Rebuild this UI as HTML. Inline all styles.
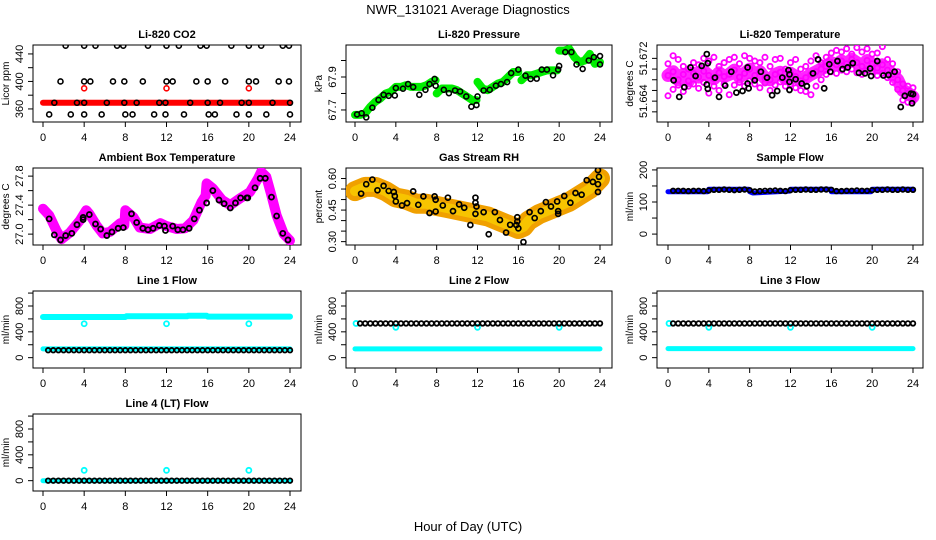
<!DOCTYPE html>
<html><head><meta charset="utf-8"><style>
html,body{margin:0;padding:0;background:#fff;}
svg{display:block;font-family:"Liberation Sans",sans-serif;}
</style></head><body>
<svg id="chart" width="936" height="540" viewBox="0 0 936 540" xmlns="http://www.w3.org/2000/svg">
<text x="468" y="14" text-anchor="middle" font-size="13">NWR_131021  Average Diagnostics</text>
<text x="468" y="531" text-anchor="middle" font-size="13">Hour of Day (UTC)</text>
</svg>
<script>
// ---- shared x ticks ----
const xTicks = [0,4,8,12,16,20,24];

// ---- CO2 ----
const co2Ticks = [360,380,400,420,440];
const co2Labels = [360,400,440];
const co2HiHours = [2.2,4.0,5.1,7.2,7.8,10.2,12.0,13.2,15.3,15.9,18.3,20.0,21.2,23.3,23.9];
const co2HiVals = [452,452,452,452,452,452,452,452,452,452,452,452,452,452,452];
const co2MidHours = [1.7,4.0,4.6,6.8,7.9,9.7,12.0,12.6,14.9,16.0,17.7,20.0,20.7,22.9,23.9];
const co2MidVals = [400,400,400,400,400,400,400,400,400,400,400,400,400,400,400];
const co2BandHours = [0,24];
const co2BandVals = [369,369];
const co2LowHours = [1.1,3.3,4.0,6.2,7.9,9.1,11.3,11.9,14.3,16.0,17.2,19.3,20.0,22.3,24.0];
const co2LowVals = [369,369,369,369,369,369,369,369,369,369,369,369,369,369,369];
const co2BotHours = [0.6,2.7,4.0,5.7,8.0,8.7,10.8,11.9,13.7,16.1,16.7,18.8,20.0,21.7,24.0];
const co2BotVals = [352,352,352,352,352,352,352,352,352,352,352,352,352,352,352];
const co2RedHours = [4,12,20];
const co2RedVals = [390,390,390];

// ---- Pressure ----
const presTicks = [67.7,67.8,67.9,68.0];
const presLabels = [67.7,67.9];
const presGreenHours = [0,0.5,1,1.5,2,2.5,3,3.5,4,4.5,5,5.5,6,6.5,7,7.5,7.9,null,8.0,8.5,9,9.5,10,10.5,11,11.5,11.9,null,12,12.5,13,13.5,14,14.5,15,15.5,16,null,16.3,16.8,17.3,17.8,18.3,18.8,19.3,19.8,null,20,20.5,21,21.5,22,22.5,23,23.5,24];
const presGreenVals = [67.67,67.67,67.68,67.72,67.75,67.77,67.8,67.81,67.84,67.84,67.85,67.84,67.84,67.84,67.85,67.87,67.88,null,67.8,67.83,67.83,67.83,67.82,67.8,67.78,67.76,67.76,null,67.87,67.83,67.82,67.84,67.86,67.87,67.9,67.93,67.93,null,67.88,67.91,67.91,67.92,67.93,67.94,67.94,67.94,null,68.06,68.06,68.07,68.02,67.99,68.0,68.04,67.98,67.99];
const presBlackHours = [0.2,0.65,1.1,1.7,2.3,2.8,3.3,3.9,4.0,4.7,5.2,5.7,6.3,6.9,7.3,7.8,7.9,8.7,9.2,9.8,10.3,10.9,11.4,11.9,12.0,12.6,13.2,13.8,14.3,14.9,15.3,16.0,16.7,17.2,17.8,18.3,18.8,19.4,19.9,20.0,20.6,21.2,21.7,22.3,22.9,23.4,24.0,24.0];
const presBlackVals = [67.673,67.68,67.655,67.714,67.761,67.792,67.786,67.788,67.833,67.829,67.857,67.839,67.792,67.822,67.857,67.888,67.847,67.822,67.802,67.818,67.812,67.782,67.72,67.73,67.782,67.818,67.822,67.847,67.857,67.869,67.924,67.945,67.908,67.888,67.89,67.945,67.945,67.91,67.945,67.967,68.051,68.051,67.976,67.949,68.0,68.02,68.027,67.976];

// ---- Li-820 Temperature ----
const tempTicks = [51.672,51.670,51.668,51.666,51.664,51.662];
const tempLabels = [51.672,51.664];
const tempMagHours = [0,0.5,1,1.5,2,2.5,3,3.5,4,4.5,5,5.5,6,6.5,7,7.5,8,8.5,9,9.5,10,10.5,11,11.5,12,12.5,13,13.5,14,14.5,15,15.5,16,16.5,17,17.5,18,18.5,19,19.5,20,20.5,21,21.5,22,22.5,23,23.5,24];
const tempMagA = [51.6710,51.6725,51.6718,51.6705,51.6700,51.6712,51.6708,51.6720,51.6715,51.6722,51.6705,51.6712,51.6718,51.6722,51.6710,51.6725,51.6720,51.6715,51.6712,51.6722,51.6705,51.6718,51.6720,51.6700,51.6712,51.6718,51.6700,51.6705,51.6715,51.6725,51.6712,51.6722,51.6730,51.6735,51.6732,51.6738,51.6728,51.6740,51.6732,51.6738,51.6728,51.6730,51.6742,51.6718,51.6710,51.6695,51.6672,51.6668,51.6665];
const tempMagB = [51.6688,51.6695,51.6680,51.6690,51.6678,51.6692,51.6685,51.6696,51.6688,51.6682,51.6693,51.6686,51.6690,51.6698,51.6685,51.6692,51.6700,51.6688,51.6695,51.6683,51.6680,51.6690,51.6694,51.6682,51.6692,51.6686,51.6678,51.6684,51.6690,51.6695,51.6700,51.6705,51.6712,51.6708,51.6715,51.6710,51.6718,51.6712,51.6705,51.6716,51.6710,51.6702,51.6708,51.6698,51.6690,51.6680,51.6660,51.6655,51.6648];
const tempMagC = [51.6650,51.6662,51.6670,51.6658,51.6668,51.6672,51.6664,51.6675,51.6655,51.6668,51.6660,51.6672,51.6652,51.6670,51.6675,51.6668,51.6678,51.6672,51.6665,51.6674,51.6660,51.6670,51.6676,51.6668,51.6672,51.6665,51.6660,51.6658,51.6652,51.6668,51.6680,51.6690,51.6695,51.6692,51.6698,51.6695,51.6700,51.6693,51.6690,51.6698,51.6695,51.6688,51.6692,51.6684,51.6675,51.6662,51.6642,51.6638,51.6640];
const tempBlackHours = [0.55,1.1,1.6,2.2,2.7,3.3,3.8,3.9,3.8,3.9,4.6,5.0,5.6,6.2,6.7,7.3,7.8,7.8,7.9,8.5,9.1,9.7,10.2,10.7,11.2,11.8,11.9,11.9,11.9,12.5,13.1,13.6,14.2,14.7,15.3,15.8,15.9,16.6,17.1,17.6,18.1,18.7,19.3,19.8,19.9,20.5,21.1,21.6,22.2,22.8,23.2,23.8,23.9,24.0];
const tempBlackVals = [51.6679,51.6648,51.6666,51.6703,51.6687,51.6706,51.6728,51.6711,51.6671,51.6663,51.6684,51.6648,51.6669,51.6695,51.6656,51.6659,51.6703,51.6673,51.6664,51.6679,51.6695,51.6684,51.6651,51.6659,51.6684,51.6698,51.6690,51.6676,51.6661,51.6681,51.6673,51.6668,51.6692,51.6718,51.6664,51.6709,51.6695,51.6715,51.6700,51.6703,51.6711,51.6693,51.6692,51.6701,51.6687,51.6715,51.6688,51.6689,51.6695,51.6629,51.6650,51.6654,51.6636,51.6653];

// ---- Ambient Box Temperature ----
const ambTicks = [27.0,27.2,27.4,27.6,27.8];
const ambLabels = [27.0,27.4,27.8];
const ambBandHours = [0,0.6,1.3,1.8,2.6,3.6,4.2,4.5,5.2,5.8,6.5,7.5,7.9,8.0,8.8,9.4,10.4,11.4,12.0,13.0,13.8,14.6,15.4,15.8,15.9,16.5,17.4,18.2,19.1,20.1,20.9,21.2,21.7,22.2,22.7,23.4,24.0];
const ambBandVals = [27.35,27.26,27.05,26.93,27.02,27.19,27.33,27.28,27.12,27.01,27.03,27.15,27.12,27.33,27.23,27.09,27.07,27.15,27.11,27.07,27.08,27.19,27.44,27.53,27.70,27.63,27.47,27.40,27.49,27.58,27.77,27.86,27.79,27.53,27.26,27.0,26.91];
const ambBlackHours = [0.6,1.1,1.7,2.2,2.8,3.3,3.9,3.9,4.5,5.1,5.6,6.2,6.7,7.3,7.8,8.6,9.1,9.7,10.2,10.7,11.3,11.8,11.9,12.6,13.1,13.6,14.2,14.7,15.2,15.9,16.5,17.1,17.6,18.2,18.7,19.2,19.8,19.9,20.6,21.1,21.6,22.2,22.7,23.3,23.8];
const ambBlackVals = [27.21,26.99,26.92,26.98,27.01,27.13,27.23,27.2,27.27,27.14,27.07,26.98,27.03,27.08,27.09,27.28,27.16,27.08,27.06,27.08,27.12,27.11,27.05,27.11,27.06,27.06,27.08,27.21,27.33,27.43,27.60,27.47,27.42,27.36,27.43,27.50,27.50,27.5,27.64,27.77,27.77,27.51,27.25,27.01,26.92];

// ---- Gas Stream RH ----
const rhTicks = [0.30,0.35,0.40,0.45,0.50,0.55,0.60];
const rhLabels = [0.30,0.45,0.60];
const rhBandHours = [0,1,2,3,4,5,6,7,8,9,10,11,12,13,14,15,15.5,16,16.5,17,18,19,20,21,22,23,24];
const rhBandVals = [0.54,0.56,0.56,0.54,0.51,0.50,0.48,0.48,0.47,0.46,0.45,0.44,0.43,0.42,0.40,0.38,0.37,0.36,0.37,0.40,0.43,0.45,0.47,0.49,0.52,0.55,0.60];
const rhBlackHours = [0.6,1.1,1.7,2.2,2.8,3.3,3.8,3.9,4.0,4.6,5.1,5.7,6.2,6.7,7.3,7.8,7.9,7.9,8.6,9.1,9.6,10.2,10.7,11.3,11.8,11.8,11.9,11.8,12.6,13.1,13.7,14.2,14.8,15.2,15.8,15.9,15.9,16.0,16.5,17.1,17.6,18.2,18.7,19.2,19.8,19.9,19.9,20.5,21.1,21.6,22.2,22.7,23.3,23.8,23.9,23.8,23.8];
const rhBlackVals = [0.528,0.573,0.595,0.544,0.565,0.541,0.536,0.517,0.491,0.472,0.483,0.539,0.475,0.515,0.436,0.515,0.499,0.443,0.472,0.509,0.445,0.477,0.461,0.379,0.509,0.485,0.467,0.432,0.44,0.335,0.44,0.403,0.343,0.38,0.379,0.416,0.396,0.363,0.298,0.44,0.412,0.445,0.488,0.467,0.491,0.445,0.432,0.517,0.485,0.531,0.523,0.592,0.584,0.640,0.608,0.573,0.536];

// ---- Flows ----
const flowTicks200 = [0,50,100,150,200];
const flowLabels200 = [0,100,200];
const flowTicks1000 = [0,200,400,600,800,1000];
const flowLabels1000 = [0,400,800];
const flowHours = [0.5,1.0,1.5,2.0,2.5,3.0,3.5,4.0,4.5,5.0,5.5,6.0,6.5,7.0,7.5,8.0,8.5,9.0,9.5,10.0,10.5,11.0,11.5,12.0,12.5,13.0,13.5,14.0,14.5,15.0,15.5,16.0,16.5,17.0,17.5,18.0,18.5,19.0,19.5,20.0,20.5,21.0,21.5,22.0,22.5,23.0,23.5,24.0];
const sampleBlueHours = [0,3.9,null,4.0,7.9,null,8.0,8.3,11.9,null,12.0,15.9,null,16.0,19.9,null,20.0,24];
const sampleBlueVals = [132,132,null,140,140,null,132,128,134,null,140,140,null,132,132,null,140,140];
const sampleBlack = [135,135,135,134,135,135,134,136,138,138,139,138,137,138,139,137,133,134,135,135,136,135,134,137,138,138,139,138,138,139,139,138,134,134,135,135,136,135,135,137,138,138,139,138,138,139,138,138];
const line1CyanHiHours = [0,8,8.1,14,14.1,15.9,16,24];
const line1CyanHiVals = [630,630,640,640,650,650,635,635];
const line1CyanLoHours = [0,24];
const line1CyanLoVals = [135,135];
const line1CircHours = [4,12,20];
const line1CircVals = [525,525,525];
const line1Black = [115,115,115,115,115,115,115,115,115,115,115,115,115,115,115,115,115,115,115,115,115,115,115,115,115,115,115,115,115,115,115,115,115,115,115,115,115,115,115,115,115,115,115,115,115,115,115,115];
const line2CyanHours = [0,24];
const line2CyanVals = [135,135];
const line2CircHours = [0.1,4,12,20];
const line2CircVals = [530,470,470,470];
const line2Black = [530,530,530,530,530,530,530,530,530,530,530,530,530,530,530,530,530,530,530,530,530,530,530,530,530,530,530,530,530,530,530,530,530,530,530,530,530,530,530,530,530,530,530,530,530,530,530,530];
const line3CyanHours = [0,24];
const line3CyanVals = [140,140];
const line3CircHours = [0.1,4,12,20];
const line3CircVals = [530,470,470,470];
const line3Black = [530,530,530,530,530,530,530,530,530,530,530,530,530,530,530,530,530,530,530,530,530,530,530,530,530,530,530,530,530,530,530,530,530,530,530,530,530,530,530,530,530,530,530,530,530,530,530,530];
const line4CyanHours = [0,24];
const line4CyanVals = [0,0];
const line4CircHours = [4,12,20];
const line4CircVals = [160,160,160];
const line4Black = [0,0,0,0,0,0,0,0,0,0,0,0,0,0,0,0,0,0,0,0,0,0,0,0,0,0,0,0,0,0,0,0,0,0,0,0,0,0,0,0,0,0,0,0,0,0,0,0];

const NS = "http://www.w3.org/2000/svg";
const svg = document.getElementById('chart');
function mk(tag, attrs, parent){
  const e = document.createElementNS(NS, tag);
  for (const k in attrs) e.setAttribute(k, attrs[k]);
  (parent||svg).appendChild(e);
  return e;
}
const cols = [{l:33,r:301,x0:43,x24:290},{l:346,r:612,x0:355,x24:600},{l:657,r:923,x0:668,x24:913}];
const rows = [45,168,291,414];
const H = 77;

function panel(col,row,title,ylab,ymin,ymax,ticks,labels,fmt,name){
  const c = cols[col], top = rows[row], bot = top+H;
  const g = mk('g',{});
  
  
  const sx = h => c.x0 + (h/24)*(c.x24-c.x0);
  const sy = v => bot - (v-ymin)/(ymax-ymin)*H;
  const t = mk('text',{x:(c.l+c.r)/2,y:top-7,'text-anchor':'middle','font-size':11,'font-weight':'bold'},g);
  t.textContent = title;
  
  
  const fr = mk('rect',{x:c.l,y:top,width:c.r-c.l,height:H,fill:'none',stroke:'#000','stroke-width':1},g);
  
  
  xTicks.forEach(h=>{
    mk('line',{x1:sx(h),x2:sx(h),y1:bot,y2:bot+5,stroke:'#000'},g);
    const tl = mk('text',{x:sx(h),y:bot+19,'text-anchor':'middle','font-size':11},g);
    tl.textContent = h;
    
    
  });
  ticks.forEach(v=>{ mk('line',{x1:c.l-5,x2:c.l,y1:sy(v),y2:sy(v),stroke:'#000'},g); });
  labels.forEach(v=>{
    const yy = sy(v);
    const tl = mk('text',{x:c.l-10,y:yy,'text-anchor':'middle','font-size':11,transform:`rotate(-90 ${c.l-10} ${yy})`},g);
    tl.textContent = fmt(v);
    
    
  });
  const yl = mk('text',{x:c.l-24,y:(top+bot)/2,'text-anchor':'middle','font-size':10,transform:`rotate(-90 ${c.l-24} ${(top+bot)/2})`},g);
  yl.textContent = ylab;
  
  
  const clip = 'clip'+col+row;
  const cp = mk('clipPath',{id:clip},g);
  mk('rect',{x:c.l,y:top,width:c.r-c.l,height:H},cp);
  const inner = mk('g',{'clip-path':`url(#${clip})`},g);
  return {sx,sy,g:inner};
}
function band(p,hours,vals,color,w,name,op){
  let d='', pen=false;
  hours.forEach((h,i)=>{
    if(h===null||vals[i]===null){pen=false;return;}
    d += (pen?'L':'M')+p.sx(h).toFixed(1)+' '+p.sy(vals[i]).toFixed(1)+' ';
    pen=true;
  });
  const e = mk('path',{d,fill:'none',stroke:color,'stroke-width':w,'stroke-linecap':'round','stroke-linejoin':'round','stroke-opacity':op||1},p.g);
  
  
}
function pts(p,hours,vals,color,r,sw,name){
  const gg = mk('g',{},p.g);
  
  
  hours.forEach((h,i)=>{
    const e = mk('circle',{cx:p.sx(h),cy:p.sy(vals[i]),r:r,fill:'none',stroke:color,'stroke-width':sw},gg);
    
    
  });
}
const f0 = v=>String(v), f1 = v=>v.toFixed(1), f2 = v=>v.toFixed(2), f3 = v=>v.toFixed(3);

// CO2
let p = panel(0,0,'Li-820 CO2','Licor ppm',341,453,co2Ticks,co2Labels,f0,'panel-co2');
band(p,co2BandHours,co2BandVals,'#ff0000',6,'co2-red-band');
pts(p,co2RedHours,co2RedVals,'#ff0000',2.5,1.6,'co2-red-points');
pts(p,co2HiHours,co2HiVals,'#000',2.5,1.6,'co2-black-440');
pts(p,co2MidHours,co2MidVals,'#000',2.5,1.6,'co2-black-400');
pts(p,co2LowHours,co2LowVals,'#000',2.5,1.6,'co2-black-369');
pts(p,co2BotHours,co2BotVals,'#000',2.5,1.6,'co2-black-352');

// Pressure
p = panel(1,0,'Li-820 Pressure','kPa',67.627,68.094,presTicks,presLabels,f1,'panel-pressure');
band(p,presGreenHours,presGreenVals,'#00ee00',8,'pressure-green-band');
pts(p,presBlackHours,presBlackVals,'#000',2.5,1.6,'pressure-black-points');

// Temperature
p = panel(2,0,'Li-820 Temperature','degrees C',51.6601,51.6745,tempTicks,tempLabels,f3,'panel-li820-temp');
band(p,tempMagHours,tempMagB,'#ff00ff',13,'temp-magenta-core',0.85);
pts(p,tempMagHours,tempMagA,'#ff00ff',2.6,1.8,'temp-magenta-a');
pts(p,tempMagHours,tempMagB,'#ff00ff',2.6,1.8,'temp-magenta-b');
pts(p,tempMagHours,tempMagC,'#ff00ff',2.6,1.8,'temp-magenta-c');
pts(p,tempBlackHours,tempBlackVals,'#000',2.5,1.8,'temp-black-points');

// Ambient
p = panel(0,1,'Ambient Box Temperature','degrees C',26.85,27.912,ambTicks,ambLabels,f1,'panel-ambient');
band(p,ambBandHours,ambBandVals,'#ff00ff',10,'ambient-magenta-band');
pts(p,ambBlackHours,ambBlackVals,'#000',2.5,1.8,'ambient-black-points');

// RH
p = panel(1,1,'Gas Stream RH','percent',0.284,0.65,rhTicks,rhLabels,f2,'panel-rh');
band(p,rhBandHours,rhBandVals,'#f0a000',20,'rh-orange-band');
band(p,rhBandHours,rhBandVals,'#f7c400',10,'rh-yellow-core');
pts(p,rhBlackHours,rhBlackVals,'#000',2.5,1.7,'rh-black-points');

// Sample flow
p = panel(2,1,'Sample Flow','ml/min',-34,206,flowTicks200,flowLabels200,f0,'panel-sample-flow');
band(p,sampleBlueHours,sampleBlueVals,'#0000ff',5,'sample-blue-band');
pts(p,flowHours,sampleBlack,'#000',2.3,1.8,'sample-black-points');

// Line 1
p = panel(0,2,'Line 1 Flow','ml/min',-160,1032,flowTicks1000,flowLabels1000,f0,'panel-line1');
band(p,line1CyanHiHours,line1CyanHiVals,'#00ffff',6,'line1-cyan-high');
band(p,line1CyanLoHours,line1CyanLoVals,'#00ffff',5,'line1-cyan-low');
pts(p,line1CircHours,line1CircVals,'#00ffff',2.5,1.8,'line1-cyan-points');
pts(p,flowHours,line1Black,'#000',2.3,1.8,'line1-black-points');

// Line 2
p = panel(1,2,'Line 2 Flow','ml/min',-160,1032,flowTicks1000,flowLabels1000,f0,'panel-line2');
band(p,line2CyanHours,line2CyanVals,'#00ffff',5,'line2-cyan-band');
pts(p,line2CircHours,line2CircVals,'#00ffff',2.5,1.8,'line2-cyan-points');
pts(p,flowHours,line2Black,'#000',2.3,1.8,'line2-black-points');

// Line 3
p = panel(2,2,'Line 3 Flow','ml/min',-160,1032,flowTicks1000,flowLabels1000,f0,'panel-line3');
band(p,line3CyanHours,line3CyanVals,'#00ffff',5,'line3-cyan-band');
pts(p,line3CircHours,line3CircVals,'#00ffff',2.5,1.8,'line3-cyan-points');
pts(p,flowHours,line3Black,'#000',2.3,1.8,'line3-black-points');

// Line 4
p = panel(0,3,'Line 4 (LT) Flow','ml/min',-160,1032,flowTicks1000,flowLabels1000,f0,'panel-line4');
band(p,line4CyanHours,line4CyanVals,'#00ffff',5,'line4-cyan-band');
pts(p,line4CircHours,line4CircVals,'#00ffff',2.5,1.8,'line4-cyan-points');
pts(p,flowHours,line4Black,'#000',2.3,1.8,'line4-black-points');
</script>
</body></html>
